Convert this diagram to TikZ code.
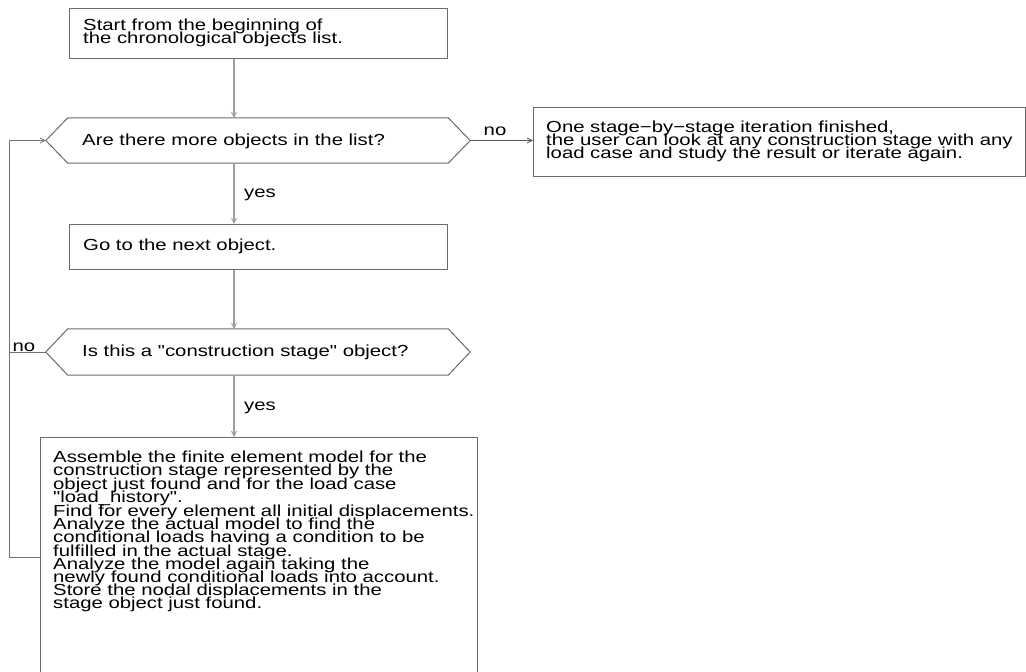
\documentclass[tikz,border=0pt]{standalone}
\usepackage{fontspec}
\setmainfont{Liberation Sans}[FakeStretch=1.27,Ligatures=TeXOff]
\usetikzlibrary{arrows.meta,calc}
\tikzset{
  txt/.style={font={\fontsize{16}{13.1}\selectfont\lineskiplimit=-30pt\lineskip=0pt}, align=left, inner sep=0pt},
  boxline/.style={draw=black!58, line width=1pt},
  flow/.style={draw=black!38, line width=1.6pt, -{Straight Barb[length=5pt,width=5pt,line width=0.8pt]}},
  noflow/.style={draw=black!65, line width=0.9pt, -{Straight Barb[length=5pt,width=5pt,line width=0.8pt]}},
  loopline/.style={draw=black!55, line width=1pt},
  lbl/.style={font={\fontsize{16}{13}\selectfont}, inner sep=0pt}
}
\begin{document}
\begin{tikzpicture}[x=1pt,y=-1pt]
\useasboundingbox (0,0) rectangle (1026,672);
\fill[white] (0,0) rectangle (1026,672);
\coordinate (col) at (234,0);
\coordinate (lp) at (9,557);
% box 1
\node[boxline, minimum width=378pt, minimum height=50pt, anchor=north west, inner sep=0pt] (b1) at (69,8) {};
\node[txt, anchor=west] (t1) at (83,33) {Start from the beginning of\\the chronological objects list.};
% hexagon 1
\node[minimum width=424pt, minimum height=45pt, inner sep=0pt] (h1) at (258,140.5) {};
\draw[boxline] (h1.west) -- ($(h1.north west)+(22,0)$) -- ($(h1.north east)+(-22,0)$) -- (h1.east) -- ($(h1.south east)+(-22,0)$) -- ($(h1.south west)+(22,0)$) -- cycle;
\node[txt, anchor=west] (t2) at (82,141) {Are there more objects in the list?};
% right box
\node[boxline, minimum width=492pt, minimum height=69pt, anchor=north west, inner sep=0pt] (br) at (533,107) {};
\node[txt, anchor=west] (t3) at (546,141) {One stage−by−stage iteration finished,\\the user can look at any construction stage with any\\load case and study the result or iterate again.};
% box 2
\node[boxline, minimum width=378pt, minimum height=45pt, anchor=north west, inner sep=0pt] (b2) at (69,224) {};
\node[txt, anchor=west] (t4) at (83,246.5) {Go to the next object.};
% hexagon 2
\node[minimum width=424pt, minimum height=46pt, inner sep=0pt] (h2) at (258,352) {};
\draw[boxline] (h2.west) -- ($(h2.north west)+(22,0)$) -- ($(h2.north east)+(-22,0)$) -- (h2.east) -- ($(h2.south east)+(-22,0)$) -- ($(h2.south west)+(22,0)$) -- cycle;
\node[txt, anchor=west] (t5) at (82,352) {Is this a "construction stage" object?};
% box 3
\node[boxline, minimum width=437pt, minimum height=260pt, anchor=north west, inner sep=0pt] (b3) at (40,437) {};
\node[txt, anchor=north west] (t6) at (53,451) {Assemble the finite element model for the\\construction stage represented by the\\object just found and for the load case\\"load\_history".\\[1.5pt]Find for every element all initial displacements.\\Analyze the actual model to find the\\conditional loads having a condition to be\\fulfilled in the actual stage.\\Analyze the model again taking the\\newly found conditional loads into account.\\Store the nodal displacements in the\\stage object just found.};
% connectors
\draw[flow] (b1.south -| col) -- (h1.north -| col);
\draw[flow] (h1.south -| col) -- (b2.north -| col);
\draw[flow] (b2.south -| col) -- (h2.north -| col);
\draw[flow] (h2.south -| col) -- (b3.north -| col);
\draw[noflow] (h1.east) -- (br.west |- h1.east);
\draw[loopline] (b3.west |- lp) -- (lp) |- (h1.west);
\draw[loopline, -{Straight Barb[length=5pt,width=5pt,line width=0.8pt]}] (lp |- h1.west) -- (h1.west);
\draw[loopline] (h2.west) -- (h2.west -| lp);
% labels
\node[lbl, anchor=base] (n1) at (495,135) {no};
\node[lbl, anchor=base] (n2) at (24,351) {no};
\node[lbl, anchor=base west] (y1) at (244,197) {yes};
\node[lbl, anchor=base west] (y2) at (244,410) {yes};
\end{tikzpicture}
\end{document}
